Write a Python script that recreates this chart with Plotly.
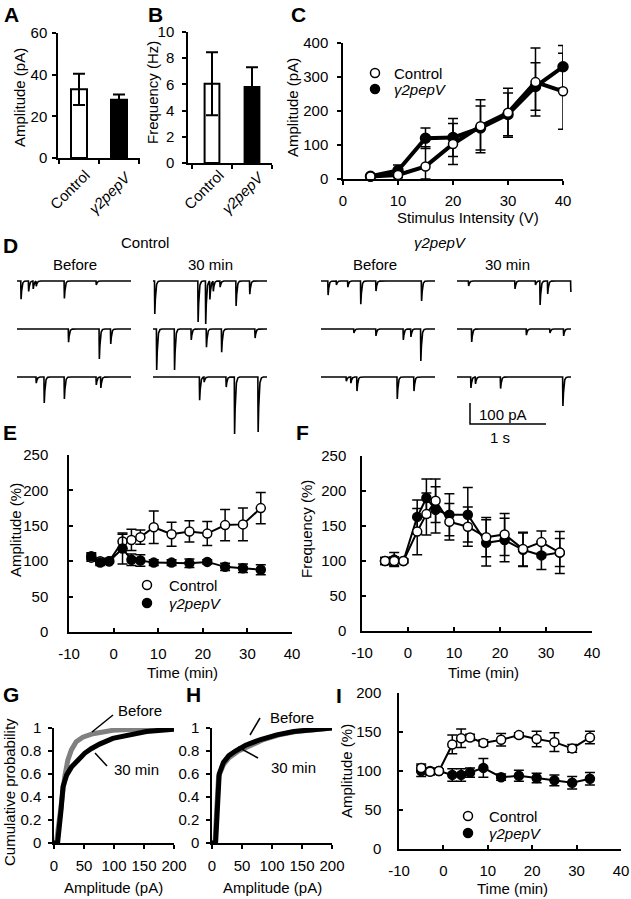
import numpy as np
import plotly.graph_objects as go

W, H = 631, 899
FONT = "Liberation Sans, Arial, Helvetica, sans-serif"

# ---------------- data ----------------
groups = ["Control", "γ2pepV"]
ampA_mean = [33, 28]
ampA_err = [7.5, 2.5]
freqB_mean = [6.05, 5.8]
freqB_err = [2.4, 1.5]

stim_V = [5, 10, 15, 20, 25, 30, 35, 40]
C_ctrl = [7, 12, 37, 103, 155, 195, 285, 258]
C_ctrl_err = [3, 8, 58, 60, 78, 72, 100, 112]
C_pep = [8, 25, 120, 122, 150, 190, 272, 330]
C_pep_err = [3, 16, 30, 56, 65, 63, 70, 63]

time_min = [-5, -3, -1, 2, 4, 6, 9, 13, 17, 21, 25, 29, 33]
E_ctrl = [105, 100, 100, 128, 130, 134, 148, 138, 142, 139, 151, 152, 175]
E_ctrl_err = [5, 4, 3, 10, 15, 10, 23, 17, 15, 17, 22, 23, 22]
E_pep = [107, 98, 100, 118, 102, 101, 98, 98, 97, 99, 92, 90, 88]
E_pep_err = [5, 4, 2, 22, 8, 8, 4, 4, 6, 3, 5, 6, 7]

F_ctrl = [100, 100, 100, 142, 167, 186, 156, 149, 134, 138, 117, 127, 112]
F_ctrl_err = [5, 6, 3, 33, 30, 31, 26, 28, 28, 30, 24, 16, 20]
F_pep = [100, 102, 100, 163, 190, 173, 166, 166, 126, 130, 116, 108, 112]
F_pep_err = [5, 10, 3, 24, 27, 33, 30, 39, 33, 31, 24, 20, 30]

I_ctrl = [104, 99, 100, 134, 142, 143, 136, 140, 146, 141, 137, 129, 143]
I_ctrl_err = [5, 4, 2, 12, 12, 4, 4, 8, 3, 10, 12, 5, 8]
I_pep = [100, 100, 100, 95, 95, 98, 104, 92, 94, 91, 88, 85, 90]
I_pep_err = [7, 4, 2, 8, 8, 6, 12, 4, 7, 6, 7, 8, 8]

G_before_pA = [0, 4, 11, 14, 18, 23, 29, 37, 48, 65, 98, 132, 200]
G_before_P = [0, 0, 0.29, 0.43, 0.58, 0.72, 0.81, 0.88, 0.92, 0.95, 0.98, 0.99, 1.0]
G_30_pA = [0, 6, 12, 15, 21, 29, 40, 51, 62, 76, 98, 126, 154, 200]
G_30_P = [0, 0, 0.3, 0.49, 0.59, 0.66, 0.72, 0.78, 0.82, 0.86, 0.91, 0.945, 0.97, 0.99]

H_before_pA = [0, 5, 8, 11, 19, 28, 44, 60, 86, 112, 140, 180, 200]
H_before_P = [0, 0, 0.3, 0.58, 0.68, 0.74, 0.8, 0.84, 0.9, 0.94, 0.97, 0.99, 1.0]
H_30_pA = [0, 6, 9, 12, 19, 28, 39, 56, 81, 108, 136, 180, 200]
H_30_P = [0, 0, 0.3, 0.6, 0.7, 0.76, 0.8, 0.85, 0.9, 0.94, 0.97, 0.99, 1.0]

# sEPSC events: (time in s from trace start, amplitude in pA)
D_ctrl_before = [
    [(0.05, 87), (0.15, 50), (0.21, 38), (0.25, 24), (0.62, 83), (1.04, 19)],
    [(0.675, 63), (1.08, 143), (1.23, 71)],
    [(0.25, 29), (0.355, 124), (0.62, 105), (1.04, 38), (1.10, 52)],
]
D_ctrl_30 = [
    [(0.02, 157), (0.59, 195), (0.69, 205), (0.745, 87), (0.79, 48), (0.88, 29), (1.09, 119), (1.27, 63)],
    [(0.045, 195), (0.28, 195), (0.50, 52), (0.70, 87), (0.90, 111), (1.34, 43)],
    [(0.61, 111), (0.67, 24), (0.96, 48), (1.07, 271), (1.38, 262)],
]
D_pep_before = [
    [(0.09, 67), (0.2, 19), (0.35, 29), (0.52, 111), (0.72, 48), (1.32, 95)],
    [(0.43, 19), (0.72, 33), (1.08, 52), (1.18, 38), (1.31, 152)],
    [(0.33, 20), (0.39, 29), (0.47, 67), (1.0, 105), (1.22, 67)],
]
D_pep_30 = [
    [(0.15, 24), (0.76, 38), (1.03, 19), (1.09, 114), (1.19, 62), (1.495, 52)],
    [(0.19, 62), (0.91, 29), (1.22, 19), (1.40, 33)],
    [(0.18, 52), (0.24, 33), (0.57, 55), (1.39, 138)],
]
trace_duration_s = 1.5
scale_pA = 100
scale_s = 1

# ---------------- helpers ----------------
def dom_x(x0, x1):
    return [x0 / W, x1 / W]

def dom_y(y_top, y_bot):
    return [1 - y_bot / H, 1 - y_top / H]

def axis(**kw):
    d = dict(showline=True, linecolor='black', linewidth=1.5, showgrid=False, zeroline=False,
             ticks='outside', ticklen=4, tickwidth=1.5, tickcolor='black', automargin=False,
             tickfont=dict(family=FONT, size=15, color='black'), fixedrange=True)
    d.update(kw)
    return d

annotations = []
shapes = []

def txt(x, y, s, size=15, xanchor='center', yanchor='middle', angle=0):
    annotations.append(dict(x=x / W, y=1 - y / H, xref='paper', yref='paper', text=s,
                            showarrow=False, font=dict(size=size, family=FONT, color='black'),
                            xanchor=xanchor, yanchor=yanchor, textangle=angle, borderpad=0))

def circ(cx, cy, filled):
    shapes.append(dict(type='circle', xref='paper', yref='paper', xsizemode='pixel', ysizemode='pixel',
                       xanchor=cx / W, yanchor=1 - cy / H, x0=-4.5, x1=4.5, y0=-4.5, y1=4.5,
                       line=dict(color='black', width=1.5), fillcolor='black' if filled else 'white'))

def seg(x0, y0, x1, y1, w=1.5):
    shapes.append(dict(type='line', xref='paper', yref='paper', x0=x0 / W, y0=1 - y0 / H,
                       x1=x1 / W, y1=1 - y1 / H, line=dict(color='black', width=w)))

fig = go.Figure()

def ebar(err, vals=None, width=5):
    d = dict(type='data', array=list(err), color='black', thickness=1.5, width=width)
    if vals is not None:
        d['arrayminus'] = [min(e, v) for e, v in zip(err, vals)]
        d['symmetric'] = False
    return d

# ---- A / B bars
for i, (m, e, ax) in enumerate([(ampA_mean, ampA_err, ('x', 'y')), (freqB_mean, freqB_err, ('x2', 'y2'))]):
    for k in range(2):
        fig.add_trace(go.Bar(x=[k], y=[m[k]], width=0.4 if i == 0 else 0.37,
                             marker=dict(color='white' if k == 0 else 'black', line=dict(color='black', width=2)),
                             error_y=dict(type='data', array=[e[k]], color='black', thickness=2, width=6),
                             xaxis=ax[0], yaxis=ax[1], showlegend=False, hoverinfo='skip'))

# ---- C
fig.add_trace(go.Scatter(x=stim_V, y=C_pep, mode='lines+markers', line=dict(color='black', width=4),
                         marker=dict(size=10, color='black', line=dict(color='black', width=1.5)),
                         error_y=ebar(C_pep_err, C_pep, 5), xaxis='x3', yaxis='y3', showlegend=False, cliponaxis=False))
fig.add_trace(go.Scatter(x=stim_V, y=C_ctrl, mode='lines+markers', line=dict(color='black', width=4),
                         marker=dict(size=9, color='white', line=dict(color='black', width=1.5)),
                         error_y=ebar(C_ctrl_err, C_ctrl, 5), xaxis='x3', yaxis='y3', showlegend=False, cliponaxis=False))

# ---- D traces
PX_PER_S = 76.0
PA_PER_PX = scale_pA / 21.0
D_TOP, D_BOT = 235, 445
col_start_px = [17, 153, 321, 457]
row_base_px = [281, 329, 377]
dt = 0.0005
tt = np.arange(0, trace_duration_s + dt / 2, dt)
tau_r, tau_d = 0.0015, 0.010

def kernel(t):
    tc_ = np.clip(t, 0, None)
    return np.where(t >= 0, np.exp(-tc_ / tau_d) - np.exp(-tc_ / tau_r), 0.0)

kpk = kernel(np.arange(0, 0.05, 0.00005)).max()

def ypa(py):
    return -(py - D_TOP) * PA_PER_PX

for c, block in enumerate([D_ctrl_before, D_ctrl_30, D_pep_before, D_pep_30]):
    t0 = col_start_px[c] / PX_PER_S
    for r, events in enumerate(block):
        base = ypa(row_base_px[r])
        y = np.full_like(tt, base)
        for (te, amp) in events:
            y = y - amp * kernel(tt - te) / kpk
        fig.add_trace(go.Scatter(x=tt + t0, y=y, mode='lines', line=dict(color='black', width=1.6),
                                 xaxis='x4', yaxis='y4', showlegend=False, hoverinfo='skip'))

# scale bar
sb_x = 470 / PX_PER_S
sb_y = ypa(424)
fig.add_trace(go.Scatter(x=[sb_x, sb_x, sb_x + scale_s], y=[sb_y + scale_pA, sb_y, sb_y], mode='lines',
                         line=dict(color='black', width=1.5), xaxis='x4', yaxis='y4', showlegend=False))

# ---- E, F, I time courses
def tc(xa, ya, ctrl, ctrl_e, pep, pep_e, ctrl_on_top):
    tr_c = go.Scatter(x=time_min, y=ctrl, mode='lines+markers', line=dict(color='black', width=2),
                      marker=dict(size=9, color='white', line=dict(color='black', width=1.5)),
                      error_y=ebar(ctrl_e, None, 5), xaxis=xa, yaxis=ya, showlegend=False)
    tr_p = go.Scatter(x=time_min, y=pep, mode='lines+markers', line=dict(color='black', width=2),
                      marker=dict(size=9, color='black', line=dict(color='black', width=1.5)),
                      error_y=ebar(pep_e, None, 5), xaxis=xa, yaxis=ya, showlegend=False)
    if ctrl_on_top:
        fig.add_trace(tr_p); fig.add_trace(tr_c)
    else:
        fig.add_trace(tr_c); fig.add_trace(tr_p)

tc('x5', 'y5', E_ctrl, E_ctrl_err, E_pep, E_pep_err, False)
tc('x6', 'y6', F_ctrl, F_ctrl_err, F_pep, F_pep_err, True)
tc('x9', 'y9', I_ctrl, I_ctrl_err, I_pep, I_pep_err, True)

# ---- G, H cumulative
for xa, ya, bx, by, ax_, ay_ in [('x7', 'y7', G_before_pA, G_before_P, G_30_pA, G_30_P),
                                  ('x8', 'y8', H_before_pA, H_before_P, H_30_pA, H_30_P)]:
    fig.add_trace(go.Scatter(x=bx, y=by, mode='lines', line=dict(color='#808080', width=5),
                             xaxis=xa, yaxis=ya, showlegend=False))
    fig.add_trace(go.Scatter(x=ax_, y=ay_, mode='lines', line=dict(color='black', width=5),
                             xaxis=xa, yaxis=ya, showlegend=False))

# ---------------- layout / axes ----------------
tv = [-10, 0, 10, 20, 30, 40]
tt_txt = ['-10', '0', '10', '20', '30', '40']
lay = dict(
    xaxis=axis(domain=dom_x(58, 140), range=[-0.525, 1.525], tickvals=[-0.5, 0.5, 1.5], ticktext=['', '', ''], anchor='y'),
    yaxis=axis(domain=dom_y(33, 158), range=[0, 60], tickvals=[0, 20, 40, 60], anchor='x', ticklabelstandoff=2),
    xaxis2=axis(domain=dom_x(188, 272), range=[-0.6, 1.5], tickvals=[-0.5, 0.5, 1.5], ticktext=['', '', ''], anchor='y2'),
    yaxis2=axis(domain=dom_y(32, 163), range=[0, 10], tickvals=[0, 2, 4, 6, 8, 10], anchor='x2', ticklabelstandoff=5),
    xaxis3=axis(domain=dom_x(343, 563), range=[0, 40], tickvals=[0, 10, 20, 30, 40], anchor='y3', ticklabelstandoff=3),
    yaxis3=axis(domain=dom_y(43, 179), range=[0, 400], tickvals=[0, 100, 200, 300, 400], anchor='x3', ticklabelstandoff=6),
    xaxis4=dict(domain=[0, 1], range=[0, W / PX_PER_S], visible=False, fixedrange=True, anchor='y4', automargin=False),
    yaxis4=dict(domain=dom_y(D_TOP, D_BOT), range=[ypa(D_BOT), 0], visible=False, fixedrange=True, anchor='x4', automargin=False),
    xaxis5=axis(domain=dom_x(69, 292), range=[-10, 40], tickvals=tv, ticktext=tt_txt, ticks='inside', anchor='y5', ticklabelstandoff=7),
    yaxis5=axis(domain=dom_y(455, 632), range=[0, 250], tickvals=[0, 50, 100, 150, 200, 250], ticks='inside', anchor='x5', ticklabelstandoff=16),
    xaxis6=axis(domain=dom_x(362, 592), range=[-10, 40], tickvals=tv, ticktext=tt_txt, ticks='inside', anchor='y6', ticklabelstandoff=7),
    yaxis6=axis(domain=dom_y(456, 631), range=[0, 250], tickvals=[0, 50, 100, 150, 200, 250], ticks='inside', anchor='x6', ticklabelstandoff=11),
    xaxis7=axis(domain=dom_x(54, 174), range=[0, 200], tickvals=[0, 50, 100, 150, 200], anchor='y7', ticklabelstandoff=4),
    yaxis7=axis(domain=dom_y(728, 843), range=[0, 1], tickvals=[0, 0.2, 0.4, 0.6, 0.8, 1], anchor='x7', ticklabelstandoff=4),
    xaxis8=axis(domain=dom_x(212, 332), range=[0, 200], tickvals=[0, 50, 100, 150, 200], anchor='y8', ticklabelstandoff=4),
    yaxis8=axis(domain=dom_y(728, 843), range=[0, 1], tickvals=[0, 0.2, 0.4, 0.6, 0.8, 1], anchor='x8', ticklabelstandoff=4),
    xaxis9=axis(domain=dom_x(399, 621), range=[-10, 40], tickvals=tv, ticktext=tt_txt, ticks='inside', anchor='y9', ticklabelstandoff=7),
    yaxis9=axis(domain=dom_y(693, 849), range=[0, 200], tickvals=[0, 50, 100, 150, 200], ticks='inside', anchor='x9', ticklabelstandoff=13),
)

# ---------------- texts ----------------
for s, x, y in [('A', 3, 14), ('B', 147, 14), ('C', 290, 14), ('D', 2, 245), ('E', 2, 432),
                ('F', 295, 432), ('G', 2, 694), ('H', 185, 694), ('I', 335, 695)]:
    txt(x, y, '<b>%s</b>' % s, size=21, xanchor='left')

# category labels
txt(70, 190, groups[0], angle=-45)
txt(110, 193, '<i>%s</i>' % groups[1], angle=-45)
txt(204, 190, groups[0], angle=-45)
txt(243, 193, '<i>%s</i>' % groups[1], angle=-45)

# axis titles
txt(19, 98, 'Amplitude (pA)', angle=-90)
txt(153, 93, 'Frequency (Hz)', angle=-90)
txt(293, 108, 'Amplitude (pA)', angle=-90)
txt(468, 218, 'Stimulus Intensity (V)')
txt(15, 530, 'Amplitude (%)', angle=-90)
txt(182, 672, 'Time (min)')
txt(306, 529, 'Frequency (%)', angle=-90)
txt(483, 672, 'Time (min)')
txt(9, 792, 'Cumulative probability', angle=-90)
txt(113, 887, 'Amplitude (pA)')
txt(272, 887, 'Amplitude (pA)')
txt(346, 771, 'Amplitude (%)', angle=-90)
txt(512, 888, 'Time (min)')

# panel D headings
txt(145, 243, groups[0])
txt(440, 243, '<i>%s</i>' % groups[1])
txt(75, 264, 'Before')
txt(210, 264, '30 min')
txt(375, 264, 'Before')
txt(507, 264, '30 min')
txt(478, 415, '%d pA' % scale_pA, xanchor='left')
txt(500, 437, '%d s' % scale_s)

# legends
for (mx, y1, y2, tx) in [(375, 73, 89, 393), (147, 585, 603, 168), (468, 816, 833, 488)]:
    circ(mx, y1, False)
    circ(mx, y2, True)
    txt(tx, y1, groups[0], xanchor='left')
    txt(tx, y2, '<i>%s</i>' % groups[1], xanchor='left')

# G / H labels with leader lines
txt(117, 710, 'Before', xanchor='left')
seg(113, 715, 92, 732)
txt(113, 769, '30 min', xanchor='left')
seg(107, 766, 95, 753)
txt(269, 717, 'Before', xanchor='left')
seg(260, 718, 250, 735)
txt(270, 767, '30 min', xanchor='left')
seg(258, 758, 238, 747)

fig.update_layout(width=W, height=H, autosize=False, margin=dict(l=0, r=0, t=0, b=0, pad=0),
                  paper_bgcolor='white', plot_bgcolor='rgba(0,0,0,0)', barmode='overlay',
                  showlegend=False, annotations=annotations, shapes=shapes,
                  font=dict(family=FONT, size=15, color='black'), **lay)

fig.write_html("out.html", config={'displayModeBar': False},
               post_script="document.body.style.margin='0px';")
